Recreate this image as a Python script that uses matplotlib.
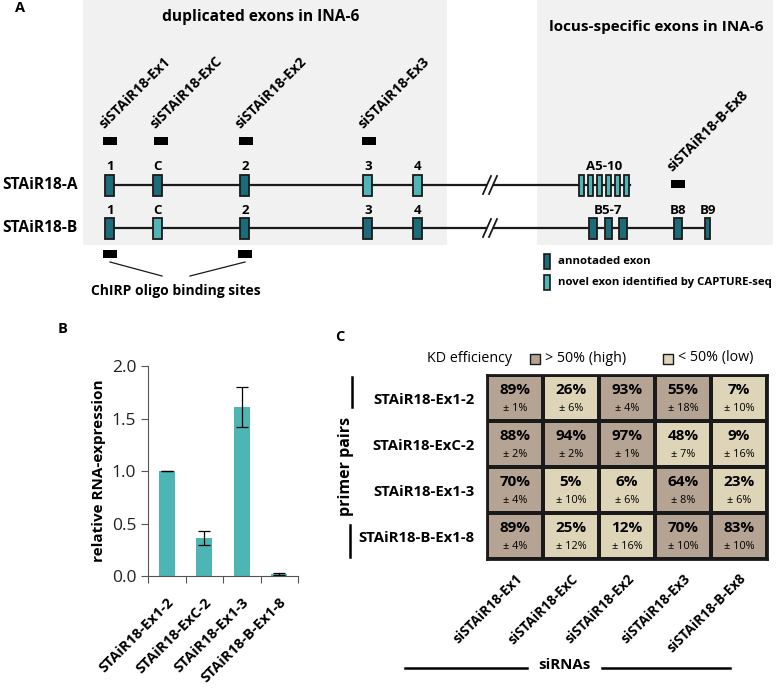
"""STAiR18 exon layout, ChIRP qPCR and siRNA knock-down efficiency figure."""

import numpy as np

import matplotlib
matplotlib.use("Agg")
import matplotlib.pyplot as plt
from matplotlib.colors import ListedColormap

plt.rcParams["font.family"] = ["Open Sans", "DejaVu Sans"]

DARK = "#1c6b7b"
LIGHT = "#50b5b6"
EDGE = "#1a1a1a"
BAR = "#4db6b4"
HIGH = "#b5a393"
LOW = "#ded5b8"

# --- Panel A: schematic exon positions (diagram units = figure pixels) ---
iso_a_x = [110, 158, 245, 368, 418, 581.5, 590.5, 599.5, 608.5, 617.5, 626.5]
iso_a_w = [9, 9, 9, 9, 9, 5, 5, 5, 5, 5, 5]
iso_a_novel = [0, 0, 0, 1, 1, 1, 1, 1, 1, 1, 1]
iso_a_lab = ["1", "C", "2", "3", "4", "A5-10"]
iso_a_lab_x = [110, 158, 245, 368, 418, 604]

iso_b_x = [110, 158, 245, 368, 418, 593, 609, 623, 678, 708]
iso_b_w = [9, 9, 9, 9, 9, 8, 7, 8, 8, 5]
iso_b_novel = [0, 1, 0, 0, 0, 0, 0, 0, 0, 0]
iso_b_lab = ["1", "C", "2", "3", "4", "B5-7", "B8", "B9"]
iso_b_lab_x = [110, 158, 245, 368, 418, 608, 678, 708]

sirna_names = ["siSTAiR18-Ex1", "siSTAiR18-ExC", "siSTAiR18-Ex2",
               "siSTAiR18-Ex3", "siSTAiR18-B-Ex8"]
sirna_x = [110, 161, 246, 369, 678]
sirna_y = [141, 141, 141, 141, 184]
chirp_x = [110, 245]

# --- Panel B: ChIRP qPCR ---
primers = ["STAiR18-Ex1-2", "STAiR18-ExC-2", "STAiR18-Ex1-3", "STAiR18-B-Ex1-8"]
rel_expr = [1.0, 0.36, 1.61, 0.02]
rel_err = [0.003, 0.065, 0.19, 0.01]

# --- Panel C: knock-down efficiency (%) ---
kd_mean = np.array([[89, 26, 93, 55, 7],
                    [88, 94, 97, 48, 9],
                    [70, 5, 6, 64, 23],
                    [89, 25, 12, 70, 83]])
kd_sd = np.array([[1, 6, 4, 18, 10],
                  [2, 2, 1, 7, 16],
                  [4, 10, 6, 8, 6],
                  [4, 12, 16, 10, 10]])

W, H = 778, 688
fig = plt.figure(figsize=(W / 100, H / 100), dpi=100)

# overlay axes in pixel units for the schematic and annotations
ax = fig.add_axes([0, 0, 1, 1])
ax.set_xlim(0, W)
ax.set_ylim(H, 0)
ax.axis("off")

ax.fill_between([83, 447], 0, 245, color="#f1f1f1", lw=0)
ax.fill_between([537, 773], 0, 245, color="#f1f1f1", lw=0)
ax.text(20, 8, "A", fontsize=10.5, fontweight="bold", ha="center", va="center")
ax.text(261, 17, "duplicated exons in INA-6", fontsize=11.2, fontweight="bold",
        ha="center", va="center")
ax.text(656, 27, "locus-specific exons in INA-6", fontsize=11, fontweight="bold",
        ha="center", va="center")


def draw_isoform(y, xs, ws, novel, labs, lab_x, end, name):
    ax.plot([xs[0], 486], [y, y], color=EDGE, lw=1.6, zorder=1)
    ax.plot([494, end], [y, y], color=EDGE, lw=1.6, zorder=1)
    for dx in (483, 489):
        ax.plot([dx, dx + 8], [y + 9, y - 9], color=EDGE, lw=1.3)
    cols = [LIGHT if n else DARK for n in novel]
    ax.bar(xs, 21, width=ws, bottom=y - 10.5, color=cols, edgecolor=EDGE,
           linewidth=1.3, zorder=2)
    for lx, lt in zip(lab_x, labs):
        ax.text(lx, y - 18, lt, fontsize=9.5, fontweight="bold",
                ha="center", va="center")
    ax.text(78, y, name, fontsize=11.2, fontweight="bold", ha="right", va="center")


draw_isoform(185, iso_a_x, iso_a_w, iso_a_novel, iso_a_lab, iso_a_lab_x, 630,
             "STAiR18-A")
draw_isoform(228, iso_b_x, iso_b_w, iso_b_novel, iso_b_lab, iso_b_lab_x, 708,
             "STAiR18-B")

# siRNA target sites
ax.bar(sirna_x, 8, width=14, bottom=np.array(sirna_y) - 4, color="black")
for sx, sy, sn in zip(sirna_x, sirna_y, sirna_names):
    ax.text(sx - 4, sy - 10, sn, fontsize=10.2, fontweight="bold", rotation=45,
            rotation_mode="anchor", ha="left", va="bottom")

# ChIRP oligo binding sites
ax.bar(chirp_x, 8, width=14, bottom=250, color="black")
ax.plot([110, 162], [262, 276], color=EDGE, lw=0.9)
ax.plot([245, 190], [262, 276], color=EDGE, lw=0.9)
ax.text(176, 291, "ChIRP oligo binding sites", fontsize=10, fontweight="bold",
        ha="center", va="center")

# exon legend
ax.bar([547, 547], 15, width=6, bottom=[254, 275], color=[DARK, LIGHT],
       edgecolor=EDGE, linewidth=1.2)
ax.text(558, 262, "annotaded exon", fontsize=8.2, fontweight="bold", va="center")
ax.text(558, 283, "novel exon identified by CAPTURE-seq", fontsize=8.2,
        fontweight="bold", va="center")

# --- Panel B ---
ax.text(63, 329, "B", fontsize=10.5, fontweight="bold", ha="center", va="center")
axb = fig.add_axes([148 / W, 1 - 576 / H, 150 / W, 210 / H])
axb.patch.set_alpha(0)
pos = np.arange(1, len(primers) + 1)
axb.bar(pos, rel_expr, width=0.42, color=BAR)
axb.errorbar(pos, rel_expr, yerr=rel_err, fmt="none", ecolor="black",
             elinewidth=0.9, capsize=4, capthick=0.9)
axb.set_xlim(0.5, 4.5)
axb.set_ylim(0, 2.0)
axb.set_yticks([0, 0.5, 1.0, 1.5, 2.0])
axb.set_yticklabels(["0.0", "0.5", "1.0", "1.5", "2.0"])
axb.set_xticks(np.arange(0.5, 4.6, 1.0), minor=False)
axb.set_xticklabels([])
axb.set_xticks(pos, minor=True)
axb.set_xticklabels(primers, minor=True, rotation=45, ha="right",
                    rotation_mode="anchor", fontsize=10.5, fontweight="bold")
axb.tick_params(axis="x", which="minor", length=0, pad=14)
axb.tick_params(axis="x", which="major", length=5, color="#555555")
axb.tick_params(axis="y", length=5, color="#555555", labelsize=12.5,
                labelcolor="#222222")
for s in ("top", "right"):
    axb.spines[s].set_visible(False)
for s in ("left", "bottom"):
    axb.spines[s].set_color("#555555")
axb.set_ylabel("relative RNA-expression", fontsize=11, fontweight="bold",
               labelpad=4)

# --- Panel C ---
ax.text(340, 337, "C", fontsize=10.5, fontweight="bold", ha="center", va="center")
ax.text(470, 358, "KD efficiency", fontsize=10.3, ha="center", va="center")
ax.scatter([535, 668], [359, 359], marker="s", s=60, c=[HIGH, LOW],
           edgecolors=EDGE, linewidths=1.0)
ax.text(545, 358, "> 50% (high)", fontsize=10.3, va="center")
ax.text(678, 358, "< 50% (low)", fontsize=10.3, va="center")

axc = fig.add_axes([487 / W, 1 - 559 / H, 280 / W, 184 / H])
nr, nc = kd_mean.shape
axc.pcolormesh(np.arange(nc + 1), np.arange(nr + 1), (kd_mean > 50).astype(int),
               cmap=ListedColormap([LOW, HIGH]), vmin=0, vmax=1,
               edgecolors=EDGE, linewidth=1.5)
axc.set_xlim(0, nc)
axc.set_ylim(nr, 0)
for i in range(nr):
    for j in range(nc):
        axc.text(j + 0.5, i + 0.33, f"{kd_mean[i, j]}%", fontsize=11,
                 fontweight="bold", ha="center", va="center")
        axc.text(j + 0.5, i + 0.73, f"± {kd_sd[i, j]}%", fontsize=7.8,
                 ha="center", va="center")
axc.set_xticks(np.arange(nc) + 0.5)
axc.set_xticklabels(sirna_names, rotation=45, ha="right", rotation_mode="anchor",
                    fontsize=9.8, fontweight="bold")
axc.set_yticks(np.arange(nr) + 0.5)
axc.set_yticklabels(primers, fontsize=10.7, fontweight="bold")
axc.tick_params(length=0, pad=9)
for s in axc.spines.values():
    s.set_linewidth(2)
    s.set_color(EDGE)

ax.text(346, 466, "primer pairs", fontsize=11.5, fontweight="bold", rotation=90,
        ha="center", va="center")
ax.plot([352, 352], [377, 407], color="black", lw=1.8)
ax.plot([350, 350], [525, 557], color="black", lw=1.8)
ax.text(564, 665, "siRNAs", fontsize=10.8, fontweight="bold", ha="center",
        va="center")
ax.plot([405, 527], [668, 668], color="black", lw=1.8)
ax.plot([602, 730], [668, 668], color="black", lw=1.8)

fig.savefig("out.png", dpi=100)
plt.close(fig)
